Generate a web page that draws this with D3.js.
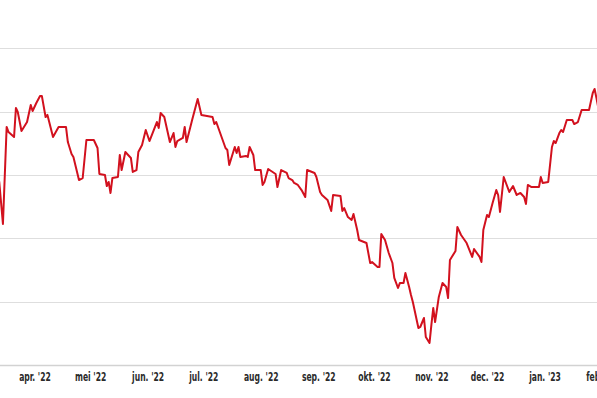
<!DOCTYPE html>
<html>
<head>
<meta charset="utf-8">
<script src="https://cdn.jsdelivr.net/npm/d3@7"></script>
<style>
  body { margin: 0; background: #fff; }
  .tick text {
    font-family: "Liberation Sans Narrow", "DejaVu Sans Condensed", "Roboto", sans-serif;
    font-stretch: condensed;
    font-size: 12.5px;
    font-weight: 600;
    fill: #2a2a2a;
  }
</style>
</head>
<body>
<svg id="chart" width="597" height="398"></svg>
<script>
"use strict";

/* ── Data ──────────────────────────────────────────────── */
const DATES = [
  "2022-03-12","2022-03-13","2022-03-15","2022-03-17","2022-03-18","2022-03-21","2022-03-22","2022-03-23","2022-03-25","2022-03-28",
  "2022-03-30","2022-03-31","2022-04-02","2022-04-04","2022-04-05","2022-04-07","2022-04-08","2022-04-11","2022-04-14","2022-04-18",
  "2022-04-19","2022-04-21","2022-04-22","2022-04-25","2022-04-27","2022-04-29","2022-05-03","2022-05-05","2022-05-06","2022-05-09",
  "2022-05-10","2022-05-11","2022-05-12","2022-05-13","2022-05-16","2022-05-17","2022-05-18","2022-05-20","2022-05-23","2022-05-24",
  "2022-05-26","2022-05-27","2022-05-29","2022-05-31","2022-06-02","2022-06-05","2022-06-06","2022-06-07","2022-06-08","2022-06-10",
  "2022-06-13","2022-06-15","2022-06-16","2022-06-17","2022-06-20","2022-06-21","2022-06-22","2022-06-25","2022-06-28","2022-06-30",
  "2022-07-06","2022-07-07","2022-07-08","2022-07-13","2022-07-14","2022-07-15","2022-07-18","2022-07-19","2022-07-20","2022-07-21",
  "2022-07-24","2022-07-25","2022-07-26","2022-07-28","2022-07-29","2022-08-01","2022-08-02","2022-08-03","2022-08-05","2022-08-09",
  "2022-08-10","2022-08-12","2022-08-15","2022-08-16","2022-08-18","2022-08-19","2022-08-21","2022-08-23","2022-08-25","2022-08-26",
  "2022-08-30","2022-08-31","2022-09-02","2022-09-03","2022-09-06","2022-09-08","2022-09-09","2022-09-13","2022-09-14","2022-09-15",
  "2022-09-17","2022-09-19","2022-09-20","2022-09-22","2022-09-23","2022-09-27","2022-09-29","2022-09-30","2022-10-03","2022-10-04",
  "2022-10-05","2022-10-07","2022-10-09","2022-10-11","2022-10-12","2022-10-14","2022-10-15","2022-10-17","2022-10-18","2022-10-20",
  "2022-10-21","2022-10-22","2022-10-25","2022-10-26","2022-10-28","2022-10-29","2022-10-31","2022-11-01","2022-11-02","2022-11-03",
  "2022-11-05","2022-11-07","2022-11-09","2022-11-10","2022-11-11","2022-11-14","2022-11-15","2022-11-17","2022-11-20","2022-11-23",
  "2022-11-24","2022-11-27","2022-11-28","2022-11-29","2022-12-01","2022-12-02","2022-12-04","2022-12-06","2022-12-07","2022-12-08",
  "2022-12-10","2022-12-13","2022-12-15","2022-12-17","2022-12-19","2022-12-21","2022-12-22","2022-12-23","2022-12-25","2022-12-29",
  "2022-12-30","2022-12-31","2023-01-03","2023-01-05","2023-01-06","2023-01-07","2023-01-09","2023-01-10","2023-01-11","2023-01-13",
  "2023-01-16","2023-01-17","2023-01-19","2023-01-21","2023-01-25","2023-01-27","2023-01-28","2023-01-29","2023-01-30"
];

const VALUES = [
  35.20, 34.45, 31.13, 38.79, 38.39, 38.00, 40.29, 39.97, 38.47, 39.18,
  40.52, 40.05, 40.68, 41.23, 41.23, 39.58, 39.74, 38.00, 38.79, 38.79,
  37.60, 36.66, 36.42, 34.60, 34.76, 37.76, 37.76, 37.13, 35.08, 35.00,
  34.13, 34.45, 33.58, 34.76, 34.84, 36.58, 35.39, 36.81, 36.34, 35.24,
  35.39, 36.81, 37.37, 38.55, 37.68, 38.79, 39.18, 38.71, 39.89, 39.58,
  37.60, 38.31, 37.21, 37.68, 37.92, 38.79, 37.60, 39.34, 41.00, 39.74,
  39.58, 39.02, 39.18, 37.13, 36.97, 35.79, 37.21, 36.74, 37.21, 36.42,
  36.50, 36.42, 37.21, 36.58, 35.39, 35.39, 34.21, 34.45, 35.47, 35.08,
  34.05, 35.39, 35.16, 34.76, 34.60, 34.37, 34.21, 33.81, 33.26, 35.39,
  35.16, 34.84, 33.66, 33.42, 33.03, 32.16, 33.42, 33.34, 32.16, 32.39,
  31.68, 31.45, 31.92, 30.66, 29.87, 29.63, 28.05, 28.13, 27.74, 27.74,
  30.34, 29.87, 28.84, 28.05, 26.87, 26.08, 26.47, 26.47, 27.26, 26.16,
  25.53, 24.97, 22.92, 23.00, 23.71, 22.21, 21.74, 23.16, 24.50, 23.39,
  25.37, 26.47, 26.16, 25.29, 28.29, 29.00, 30.89, 30.26, 29.63, 28.53,
  29.16, 28.53, 28.13, 30.66, 31.84, 31.68, 32.79, 33.81, 33.42, 32.08,
  34.84, 33.66, 34.13, 33.42, 33.58, 33.26, 32.71, 34.21, 34.05, 34.05,
  34.84, 34.37, 34.45, 37.21, 37.68, 37.52, 38.31, 38.55, 38.39, 39.34,
  39.34, 39.02, 39.18, 40.13, 40.13, 41.47, 41.79, 41.08, 40.29
];

const TICK_DATES  = ["2022-04-01","2022-05-01","2022-06-01","2022-07-01","2022-08-01","2022-09-01",
                     "2022-10-01","2022-11-01","2022-12-01","2023-01-01","2023-02-01"];
const TICK_LABELS = ["apr. '22","mei '22","jun. '22","jul. '22","aug. '22","sep. '22",
                     "okt. '22","nov. '22","dec. '22","jan. '23","feb. '23"];
const GRID_VALUES = [20, 25, 30, 35, 40, 45];

/* ── Layout ────────────────────────────────────────────── */
const W = 597, H = 398;
const Y_TOP = 48.3, Y_BOTTOM = 365;
const parse = d3.timeParse("%Y-%m-%d");

const data = DATES.map((d, i) => ({ date: parse(d), value: VALUES[i] }));

const x = d3.scaleTime()
  .domain([new Date(2022, 2, 13, 10), new Date(2023, 0, 29, 7)])
  .range([0, W]);
const y = d3.scaleLinear()
  .domain([20, 45])
  .range([Y_BOTTOM, Y_TOP]);

const svg = d3.select("#chart");

/* gridlines (bottom one doubles as the axis line) */
svg.append("g")
  .selectAll("line")
  .data(GRID_VALUES)
  .join("line")
  .attr("x1", 0).attr("x2", W)
  .attr("y1", (d) => Math.round(y(d)) + 0.5)
  .attr("y2", (d) => Math.round(y(d)) + 0.5)
  .attr("stroke", (d) => d === 20 ? "#d2d2d2" : "#dedede")
  .attr("stroke-width", (d) => d === 20 ? 1.5 : 1);

/* x axis labels, squeezed to match the condensed face */
svg.append("g")
  .attr("transform", `translate(0,${Y_BOTTOM})`)
  .call(d3.axisBottom(x)
    .tickValues(TICK_DATES.map(parse))
    .tickFormat((d, i) => TICK_LABELS[i])
    .tickSize(0)
    .tickPadding(7))
  .call((a) => {
    a.select(".domain").remove();
    a.selectAll(".tick text").attr("transform", "scale(0.68,1)");
  });

/* the line */
svg.append("path")
  .datum(data)
  .attr("fill", "none")
  .attr("stroke", "#d2111e")
  .attr("stroke-width", 2)
  .attr("stroke-linejoin", "round")
  .attr("d", d3.line().x((d) => x(d.date)).y((d) => y(d.value)));
</script>
</body>
</html>
